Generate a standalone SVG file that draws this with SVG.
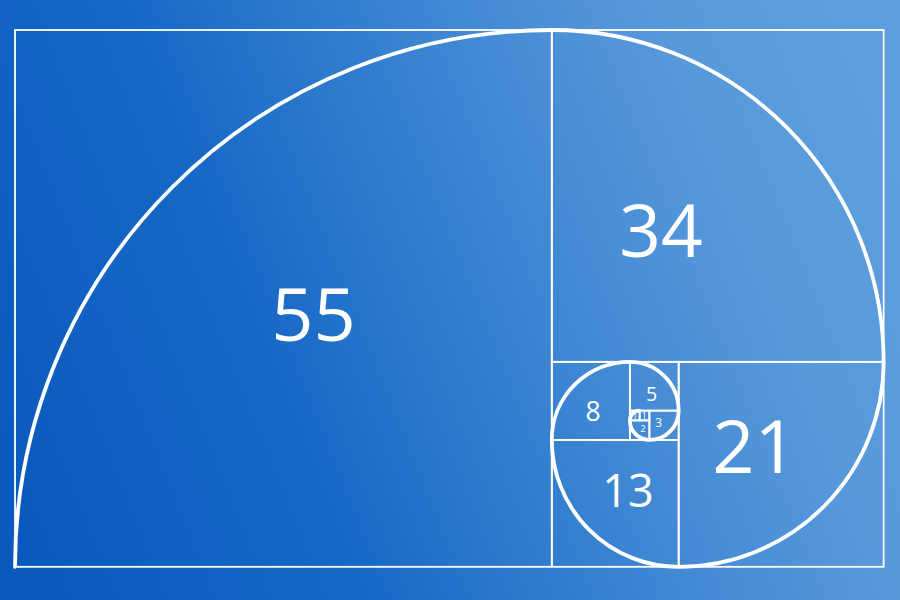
<svg xmlns="http://www.w3.org/2000/svg" width="900" height="600" viewBox="0 0 900 600">
  <defs>
    <linearGradient id="bg" gradientUnits="userSpaceOnUse" x1="0" y1="480" x2="900" y2="120">
      <stop offset="0" stop-color="#0a5abd"/>
      <stop offset="0.3" stop-color="#1668c6"/>
      <stop offset="0.62" stop-color="#4289d4"/>
      <stop offset="0.8" stop-color="#5798da"/>
      <stop offset="1" stop-color="#5e9fdd"/>
    </linearGradient>
  </defs>
  <style>
    .sq { fill: none; stroke: #ffffff; stroke-width: 1.8; }
    .lbl { fill: #ffffff; font-family: "Open Sans", "Noto Sans", sans-serif; text-anchor: middle; }
    .spiral { fill: none; stroke: #ffffff; stroke-width: 3.8; stroke-linecap: round; }
  </style>
  <rect x="0" y="0" width="900" height="600" fill="url(#bg)"/>

  <g id="sq55"><rect class="sq" x="15" y="30" width="536.8" height="536.8"/><text class="lbl" x="313.5" y="341" font-size="74">55</text></g>
  <g id="sq34"><rect class="sq" x="551.8" y="30" width="331.84" height="331.84"/><text class="lbl" x="661" y="257" font-size="73">34</text></g>
  <g id="sq21"><rect class="sq" x="678.68" y="361.84" width="204.96" height="204.96"/><text class="lbl" x="754.5" y="473" font-size="74">21</text></g>
  <g id="sq13"><rect class="sq" x="551.8" y="439.92" width="126.88" height="126.88"/><text class="lbl" x="628" y="507" font-size="45">13</text></g>
  <g id="sq8"><rect class="sq" x="551.8" y="361.84" width="78.08" height="78.08"/><text class="lbl" x="593" y="421" font-size="26.5">8</text></g>
  <g id="sq5"><rect class="sq" x="629.88" y="361.84" width="48.8" height="48.8"/><text class="lbl" x="651.5" y="400.7" font-size="19.6">5</text></g>
  <g id="sq3"><rect class="sq" x="649.4" y="410.64" width="29.28" height="29.28"/><text class="lbl" x="658.7" y="426.7" font-size="11.8">3</text></g>
  <g id="sq2"><rect class="sq" x="629.88" y="420.4" width="19.52" height="19.52"/><text class="lbl" x="643" y="431.6" font-size="9.2">2</text></g>
  <g id="sq1a"><rect class="sq" x="629.88" y="410.64" width="9.76" height="9.76"/><text class="lbl" x="635" y="419" font-size="8.8">1</text></g>
  <g id="sq1b"><rect class="sq" x="639.64" y="410.64" width="9.76" height="9.76"/><text class="lbl" x="644.3" y="419" font-size="8.8">1</text></g>

  <g id="connectors">
    <path class="spiral" d="M15 566.8 A536.8 536.8 0 0 1 551.8 30 A331.84 331.84 0 0 1 883.64 361.84 A204.96 204.96 0 0 1 678.68 566.8 A126.88 126.88 0 0 1 551.8 439.92 A78.08 78.08 0 0 1 629.88 361.84 A48.8 48.8 0 0 1 678.68 410.64 A29.28 29.28 0 0 1 649.4 439.92 A19.52 19.52 0 0 1 629.88 420.4 A9.76 9.76 0 0 1 639.64 410.64"/>
  </g>
</svg>
